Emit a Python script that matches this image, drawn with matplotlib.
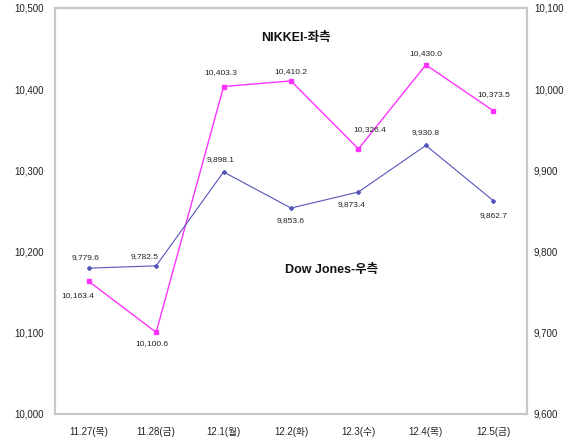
import numpy as np
import matplotlib
matplotlib.use("Agg")
import matplotlib.pyplot as plt
from matplotlib.ticker import FuncFormatter

plt.rcParams['font.family'] = ['Liberation Sans', 'Noto Sans CJK KR', 'DejaVu Sans']

dates = ['11.27(목)', '11.28(금)', '12.1(월)', '12.2(화)', '12.3(수)', '12.4(목)', '12.5(금)']
nikkei = [10163.4, 10100.6, 10403.3, 10410.2, 10326.4, 10430.0, 10373.5]
dow = [9779.6, 9782.5, 9898.1, 9853.6, 9873.4, 9930.8, 9862.7]

# label offsets (points) for each value label
nik_off = [(-8, -10), (-3, -8), (-2, 10), (0, 7), (8, 14), (0, 8), (0, 12)]
dow_off = [(-2, 8), (-8, 7), (-2, 9), (0, -9), (-5, -9), (0, 9), (0, -11)]

fig = plt.figure(figsize=(5.76, 4.48), dpi=100)
ax = fig.add_axes([55/576, 34/448, 472/576, 406/448])
ax2 = ax.twinx()

x = np.arange(len(dates))
pink = '#ff33ff'
blue = '#5555bb'
ax.plot(x, nikkei, color=pink, lw=1.0, marker='s', ms=2.2, zorder=3)
ax2.plot(x, dow, color=blue, lw=0.8, marker='D', ms=2.0, zorder=3)

ax.set_xlim(-0.5, len(dates) - 0.5)
ax.set_ylim(10000, 10500)
ax2.set_ylim(9600, 10100)
ax.set_yticks(np.arange(10000, 10501, 100))
ax2.set_yticks(np.arange(9600, 10101, 100))
fmt = FuncFormatter(lambda v, p: f'{v:,.0f}')
ax.yaxis.set_major_formatter(fmt)
ax2.yaxis.set_major_formatter(fmt)
ax.set_xticks(x)
ax.set_xticklabels(dates)

for a in (ax, ax2):
    a.tick_params(length=0, labelsize=7, colors='#222222')
    for s in a.spines.values():
        s.set_color('#c8c8c8')
        s.set_linewidth(1.5)
ax.tick_params(axis='y', pad=8)
ax2.tick_params(axis='y', pad=5)
ax.tick_params(axis='x', pad=9)

for i, v in enumerate(nikkei):
    ax.annotate(f'{v:,.1f}', (x[i], v), xytext=nik_off[i], textcoords='offset points',
                ha='center', va='center', fontsize=6, color='#222222')
for i, v in enumerate(dow):
    ax2.annotate(f'{v:,.1f}', (x[i], v), xytext=dow_off[i], textcoords='offset points',
                 ha='center', va='center', fontsize=6, color='#222222')

ax.text(0.51, 0.925, 'NIKKEI-좌측', transform=ax.transAxes, ha='center', va='center',
        fontsize=9, fontweight='bold', color='#111111')
ax.text(0.585, 0.355, 'Dow Jones-우측', transform=ax.transAxes, ha='center', va='center',
        fontsize=9, fontweight='bold', color='#111111')

fig.savefig('out.png', dpi=100)
